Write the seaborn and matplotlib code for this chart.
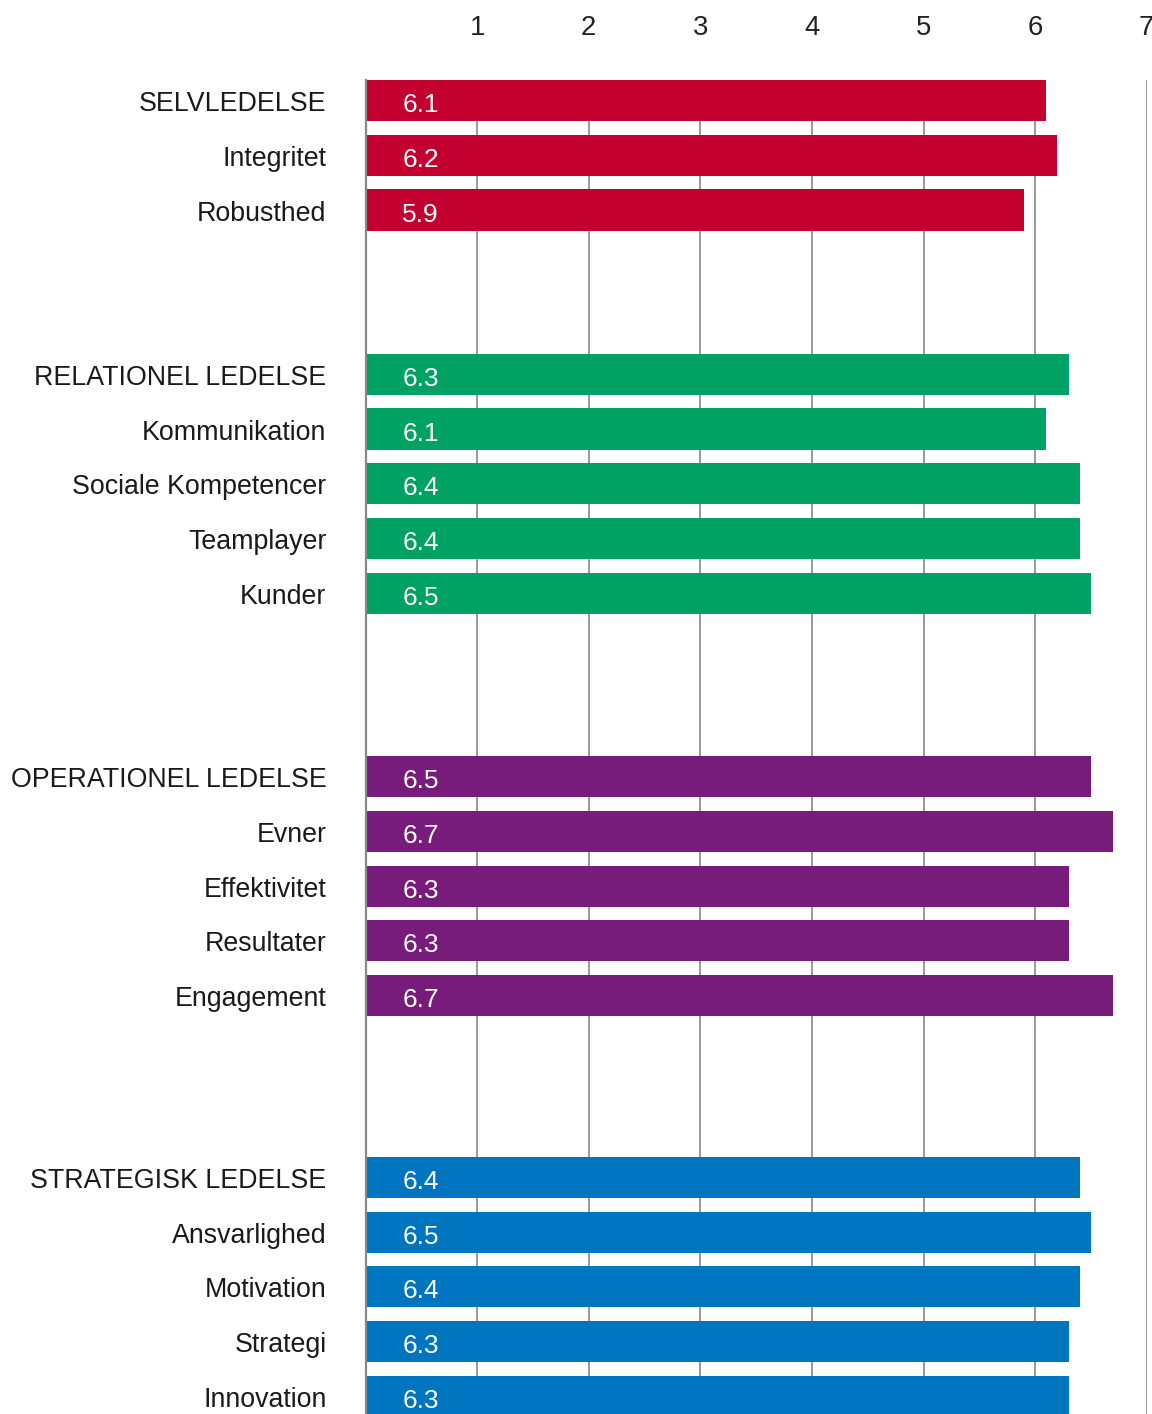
import matplotlib
matplotlib.use("Agg")
import matplotlib.pyplot as plt
import matplotlib.transforms as mtransforms
import numpy as np
import pandas as pd
import seaborn as sns

# ---------------- data ----------------
group_names = ["SELVLEDELSE", "RELATIONEL LEDELSE", "OPERATIONEL LEDELSE", "STRATEGISK LEDELSE"]

selvledelse_labels = ["SELVLEDELSE", "Integritet", "Robusthed"]
selvledelse_values = [6.1, 6.2, 5.9]

relationel_labels = ["RELATIONEL LEDELSE", "Kommunikation", "Sociale Kompetencer", "Teamplayer", "Kunder"]
relationel_values = [6.3, 6.1, 6.4, 6.4, 6.5]

operationel_labels = ["OPERATIONEL LEDELSE", "Evner", "Effektivitet", "Resultater", "Engagement"]
operationel_values = [6.5, 6.7, 6.3, 6.3, 6.7]

strategisk_labels = ["STRATEGISK LEDELSE", "Ansvarlighed", "Motivation", "Strategi", "Innovation"]
strategisk_values = [6.4, 6.5, 6.4, 6.3, 6.3]

x_ticks = [1, 2, 3, 4, 5, 6, 7]

# ---------------- style / layout ----------------
group_colors = {
    "SELVLEDELSE": "#C3002F",
    "RELATIONEL LEDELSE": "#00A264",
    "OPERATIONEL LEDELSE": "#781C7B",
    "STRATEGISK LEDELSE": "#0075BF",
}
group_gaps = [0.0, 2.0, 2.35, 2.32]  # blank space (in rows) before each group

label_sets = [selvledelse_labels, relationel_labels, operationel_labels, strategisk_labels]
value_sets = [selvledelse_values, relationel_values, operationel_values, strategisk_values]

rows = []
cursor = 0.0
for gname, labs, vals, gap in zip(group_names, label_sets, value_sets, group_gaps):
    cursor += gap
    for lab, val in zip(labs, vals):
        rows.append({"label": lab, "value": val, "group": gname, "pos": round(cursor, 4)})
        cursor += 1.0
df = pd.DataFrame(rows)

sns.set_theme(style="white")
plt.rcParams["font.family"] = ["Liberation Sans", "DejaVu Sans"]

W, H = 1152, 1414
fig = plt.figure(figsize=(W / 100, H / 100), dpi=100)
ax_left, ax_right, ax_top = 365.5, 1146.7, 80.0
ax = fig.add_axes([ax_left / W, 0.0, (ax_right - ax_left) / W, (H - ax_top) / H])

sns.barplot(
    data=df, x="value", y="pos", hue="group", palette=group_colors,
    orient="h", native_scale=True, width=0.75, saturation=1,
    legend=False, linewidth=0, ax=ax,
)

slot_px = 54.75
span = (H - ax_top) / slot_px
ax.set_xlim(0, 7)
ax.set_ylim(span - 0.375, -0.375)

# grid & spines
ax.set_axisbelow(True)
ax.xaxis.grid(True, color="#888888", linewidth=1.2)
ax.yaxis.grid(False)
for s in ["top", "right", "bottom"]:
    ax.spines[s].set_visible(False)
ax.spines["left"].set_color("#888888")
ax.spines["left"].set_linewidth(1.6)

# x ticks on top
ax.set_xticks(x_ticks)
ax.set_xticklabels([str(t) for t in x_ticks])
ax.tick_params(axis="x", top=True, labeltop=True, bottom=False, labelbottom=False,
               length=0, pad=28, labelsize=19.8, labelcolor="#222222")

# y tick labels (categories)
ax.set_yticks(df["pos"].tolist())
ax.set_yticklabels(df["label"].tolist())
ax.tick_params(axis="y", length=0, pad=28, labelsize=19.3, labelcolor="#1a1a1a")
offset = mtransforms.ScaledTranslation(0, -10.5 / 100, fig.dpi_scale_trans)
for lbl in ax.get_yticklabels():
    lbl.set_va("baseline")
    lbl.set_transform(lbl.get_transform() + offset)

ax.set_xlabel("")
ax.set_ylabel("")

# value labels inside bars
baseline_shift = 11.5 / slot_px
for p, v in zip(df["pos"], df["value"]):
    ax.text(0.495, p + baseline_shift, f"{v:.1f}", ha="center", va="baseline",
            color="white", fontsize=19, clip_on=True)

fig.savefig("out.png", dpi=100)
